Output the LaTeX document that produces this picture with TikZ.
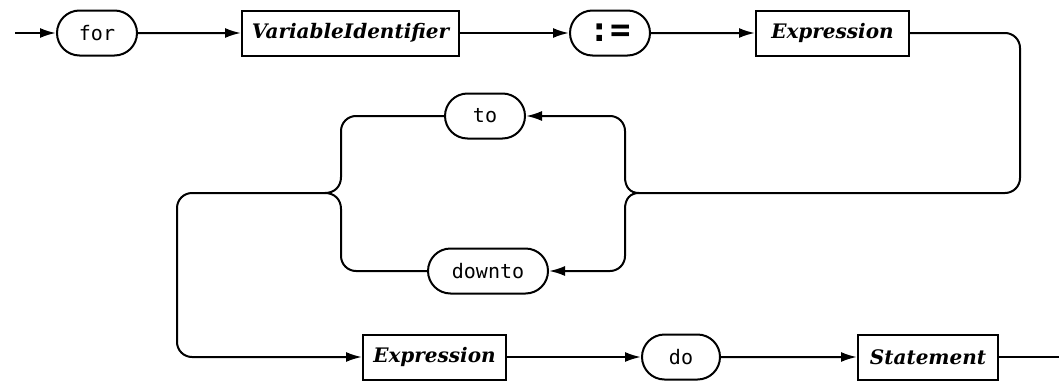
\documentclass[tikz,border=0pt]{standalone}
\usepackage{fontspec}
\newfontfamily\kwfont{DejaVu Sans Mono}
\newfontfamily\ntfont{DejaVu Serif}
\usetikzlibrary{shapes.misc,arrows.meta}
\begin{document}
\begin{tikzpicture}[x=1pt,y=-1pt,line width=2pt,
  >={Latex[length=16pt,width=10pt]},
  term/.style={draw, rounded rectangle, minimum height=45pt, inner sep=0pt,
    font=\kwfont\fontsize{20}{20}\selectfont},
  nonterm/.style={draw, rectangle, minimum height=45pt, inner sep=0pt,
    font=\ntfont\bfseries\itshape\fontsize{20}{20}\selectfont},
  brace/.style={rounded corners=15pt}]
\useasboundingbox (0,0) rectangle (1059,380);
\coordinate (in) at (15,33);
\coordinate (out) at (1059,357);
\coordinate (lt) at (325,193);
\coordinate (rt) at (639,193);
\node[term, minimum width=80pt] (for) at (97,33) {for};
\node[nonterm, minimum width=217pt] (var) at (350.5,33) {VariableIdentifier};
\node[term, minimum width=80pt, font=\kwfont\bfseries\fontsize{34}{34}\selectfont] (assign) at (610,33) {:=};
\node[nonterm, minimum width=153pt] (expr1) at (832.5,33) {Expression};
\node[term, minimum width=80pt] (to) at (485,116) {to};
\node[term, minimum width=120pt] (downto) at (488,271) {downto};
\node[nonterm, minimum width=143pt] (expr2) at (434.5,357) {Expression};
\node[term, minimum width=78pt] (do) at (681,357) {do};
\node[nonterm, minimum width=140pt] (stmt) at (928,357) {Statement};
\draw[->] (in) -- (for);
\draw[->] (for) -- (var);
\draw[->] (var) -- (assign);
\draw[->] (assign) -- (expr1);
\draw[brace] (expr1.east) -- (1020,33) -- (1020,193) -- (rt);
% right brace
\draw (rt) .. controls (630,193) and (625,187) .. (625,177);
\draw (rt) .. controls (630,193) and (625,199) .. (625,209);
\draw[->, brace] (625,177) -- (625,116) -- (to.east);
\draw[->, brace] (625,209) -- (625,271) -- (downto.east);
% left brace
\draw[brace] (to.west) -- (341,116) -- (341,177);
\draw[brace] (downto.west) -- (341,271) -- (341,209);
\draw (341,177) .. controls (341,187) and (334,193) .. (lt);
\draw (341,209) .. controls (341,199) and (334,193) .. (lt);
\draw[->, brace] (lt) -- (177,193) -- (177,357) -- (expr2.west);
\draw[->] (expr2) -- (do);
\draw[->] (do) -- (stmt);
\draw (stmt) -- (out);
\end{tikzpicture}
\end{document}
